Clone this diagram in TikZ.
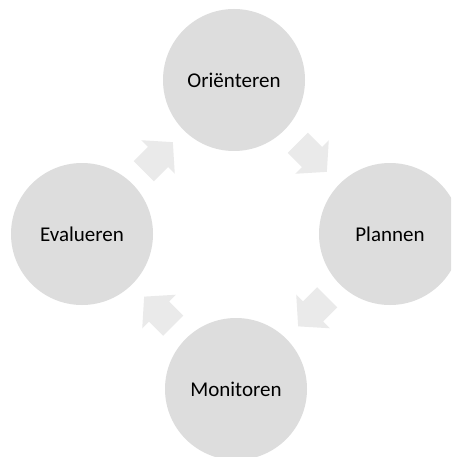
\documentclass[tikz,border=0pt]{standalone}
\usepackage{fontspec}
\setmainfont{Carlito}
\usetikzlibrary{calc}
\definecolor{circfill}{HTML}{DDDDDD}
\definecolor{arrfill}{HTML}{EAEAEA}
\tikzset{
  stage/.style={circle, fill=circfill, draw=none, minimum size=142pt, inner sep=0pt,
    font=\fontsize{21}{25}\selectfont, text=black},
  cyclearrow/.pic={\fill[arrfill] (-20,-14.3) -- (0,-14.3) -- (0,-23.7) -- (21,0) -- (0,23.7) -- (0,14.3) -- (-20,14.3) -- cycle;}
}
\begin{document}
\begin{tikzpicture}[x=1pt,y=-1pt]
\useasboundingbox (0,0) rectangle (451,457);
\clip (0,0) rectangle (451,457);
\fill[white] (0,0) rectangle (451,457);
\node[stage] (o) at (234,80) {Oriënteren};
\node[stage] (p) at (390,234) {Plannen};
\node[stage] (m) at (236,389) {Monitoren};
\node[stage] (e) at (82,234) {Evalueren};
\pic[rotate=-45] at ($(o)!0.5!(p)$) {cyclearrow};
\pic[rotate=-135] at ($(p)!0.5!(m)$) {cyclearrow};
\pic[rotate=135] at ($(m)!0.5!(e)$) {cyclearrow};
\pic[rotate=45] at ($(e)!0.5!(o)$) {cyclearrow};
\end{tikzpicture}
\end{document}
